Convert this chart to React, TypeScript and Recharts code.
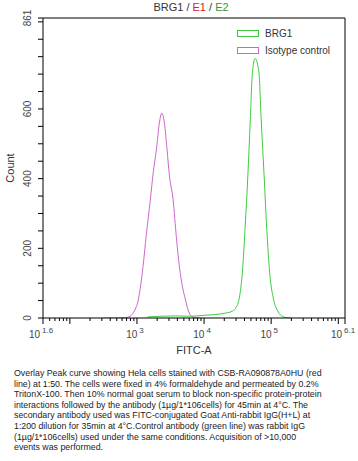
import React from "react";
import { LineChart, Line, XAxis, YAxis, ReferenceLine, Legend } from "recharts";

// log10(FITC-A) positions and counts
const isotypeLogFitc = [2.5, 2.706, 2.826, 2.9, 2.96, 3.02, 3.09, 3.14, 3.199, 3.244, 3.289, 3.334, 3.371, 3.409, 3.449, 3.483, 3.539, 3.588, 3.633, 3.678, 3.723, 3.767, 3.812, 3.872, 3.95];
const isotypeCount = [0, 0, 1, 5, 20, 52, 147, 240, 339, 420, 482, 560, 588, 560, 482, 410, 339, 230, 147, 90, 52, 20, 5, 1, 0];

const brg1LogFitc = [3.155, 3.35, 3.573, 3.797, 4.007, 4.171, 4.32, 4.425, 4.47, 4.519, 4.57, 4.612, 4.654, 4.687, 4.72, 4.761, 4.818, 4.851, 4.893, 4.933, 4.978, 5.038, 5.098, 5.187, 5.29];
const brg1Count = [3, 5, 6, 5, 8, 10, 14, 20, 28, 52, 129, 260, 415, 560, 703, 745, 703, 570, 415, 260, 129, 52, 20, 3, 0];

const xDomain = [1.6, 6.1];
const xLabelExps = [1.6, 3, 4, 5, 6.1];
const yMax = 861;
const yLabels = [0, 200, 400, 600, 861];

const captionLines = [
  "Overlay Peak curve showing Hela cells stained with CSB-RA090878A0HU (red",
  "line) at 1:50. The cells were fixed in 4% formaldehyde and permeated by 0.2%",
  "TritonX-100. Then 10% normal goat serum to block non-specific protein-protein",
  "interactions followed by the antibody (1µg/1*106cells) for 45min at 4°C. The",
  "secondary antibody used was FITC-conjugated Goat Anti-rabbit IgG(H+L) at",
  "1:200 dilution for 35min at 4°C.Control antibody (green line) was rabbit IgG",
  "(1µg/1*106cells) used under the same conditions. Acquisition of >10,000",
  "events was performed.",
];

const GREEN = "#3dcc3d";
const MAGENTA = "#cc66cc";
const FONT = "Liberation Sans, Arial, sans-serif";

const isotypeData = isotypeLogFitc.map((x, i) => ({ x, y: isotypeCount[i] }));
const brg1Data = brg1LogFitc.map((x, i) => ({ x, y: brg1Count[i] }));

// decade + minor tick positions within the domain
const xTicks: number[] = [xDomain[0]];
for (let d = 1; d <= 6; d++) {
  for (let k = 1; k <= 9; k++) {
    const v = d + Math.log10(k);
    if (v > xDomain[0] + 0.01 && v < xDomain[1] - 0.01) xTicks.push(v);
  }
}
xTicks.push(xDomain[1]);

const yTicks: number[] = [];
for (let v = 0; v < yMax; v += 50) yTicks.push(v);
yTicks.push(yMax);

const near = (a: number, b: number) => Math.abs(a - b) < 1e-6;

const XTick = (props: any) => {
  const { x, y, payload } = props;
  const v = payload.value;
  const major = near(v, Math.round(v)) || near(v, xDomain[0]) || near(v, xDomain[1]);
  const label = xLabelExps.find((e) => near(e, v));
  return (
    <g>
      <line x1={x} x2={x} y1={y} y2={y + (major ? 6 : 3)} stroke="#000" />
      {label !== undefined && (
        <text x={x - 2} y={y + 20} textAnchor="middle" fontSize={10} fill="#444" fontFamily={FONT}>
          10
          <tspan dx={2} dy={-5} fontSize={8}>{label}</tspan>
        </text>
      )}
    </g>
  );
};

const YTick = (props: any) => {
  const { x, y, payload } = props;
  const v = payload.value;
  const show = yLabels.includes(v);
  return (
    <g>
      <line x1={x} x2={x - 5} y1={y} y2={y} stroke="#000" />
      {show && (
        <text
          x={x - 12}
          y={y}
          transform={`rotate(-90 ${x - 12} ${y})`}
          textAnchor="middle"
          fontSize={10}
          fill="#444"
          fontFamily={FONT}
        >
          {v}
        </text>
      )}
    </g>
  );
};

const LegendBox = (props: any) => {
  const items = props.payload || [];
  return (
    <div style={{ fontFamily: FONT, fontSize: 10, color: "#333" }}>
      {items.map((p: any) => (
        <div key={p.value} style={{ display: "flex", alignItems: "center", height: 17 }}>
          <span style={{ display: "inline-block", width: 20, height: 5, border: `1px solid ${p.color}`, marginRight: 6 }} />
          <span>{p.value}</span>
        </div>
      ))}
    </div>
  );
};

export default function App() {
  return (
    <div style={{ position: "absolute", left: 0, top: 0, width: 358, height: 461, background: "#fff" }}>
      <div
        style={{
          position: "absolute",
          top: 1,
          left: 0,
          width: 382,
          textAlign: "center",
          fontFamily: FONT,
          fontSize: 11,
          color: "#333",
        }}
      >
        BRG1 / <span style={{ color: "#d0202a" }}>E1</span> / <span style={{ color: "#2e9a3a" }}>E2</span>
      </div>
      <LineChart width={358} height={360} margin={{ top: 18, right: 13, bottom: 0, left: 0 }}>
        <XAxis
          dataKey="x"
          type="number"
          domain={xDomain}
          ticks={xTicks}
          interval={0}
          allowDataOverflow
          tickSize={0}
          tickMargin={0}
          height={42}
          stroke="#000"
          tick={<XTick />}
          label={{ value: "FITC-A", position: "insideBottom", offset: 6, fontSize: 11, fill: "#333", fontFamily: FONT }}
        />
        <YAxis
          dataKey="y"
          type="number"
          domain={[0, yMax]}
          ticks={yTicks}
          interval={0}
          allowDataOverflow
          tickSize={0}
          tickMargin={0}
          width={43}
          stroke="#000"
          tick={<YTick />}
          label={{
            value: "Count",
            angle: -90,
            position: "insideLeft",
            offset: 10,
            fontSize: 11,
            fill: "#333",
            fontFamily: FONT,
            style: { textAnchor: "middle" },
          }}
        />
        <ReferenceLine y={yMax} stroke="#000" />
        <ReferenceLine x={xDomain[1]} stroke="#000" />
        <Legend
          layout="vertical"
          align="center"
          verticalAlign="middle"
          content={<LegendBox />}
          wrapperStyle={{ top: 25, left: 237, width: 120 }}
        />
        <Line data={brg1Data} dataKey="y" name="BRG1" type="monotone" stroke={GREEN} strokeWidth={1} dot={false} isAnimationActive={false} />
        <Line data={isotypeData} dataKey="y" name="Isotype control" type="monotone" stroke={MAGENTA} strokeWidth={1} dot={false} isAnimationActive={false} />
      </LineChart>
      <div
        style={{
          position: "absolute",
          top: 368,
          left: 14,
          fontFamily: FONT,
          fontSize: 8.8,
          lineHeight: "10.6px",
          color: "#222",
          whiteSpace: "nowrap",
        }}
      >
        {captionLines.map((l) => (
          <div key={l}>{l}</div>
        ))}
      </div>
    </div>
  );
}
